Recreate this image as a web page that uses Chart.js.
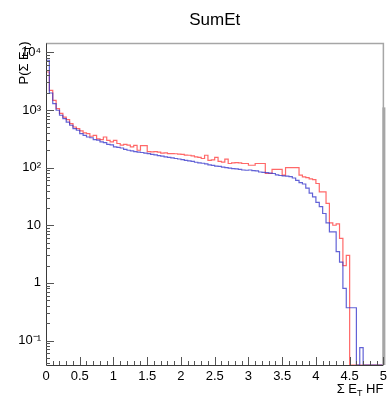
<!DOCTYPE html>
<html>
<head>
<meta charset="utf-8">
<script src="https://cdn.jsdelivr.net/npm/chart.js@4.4.1/dist/chart.umd.min.js"></script>
<style>
  body { margin: 0; background: #fff; }
</style>
</head>
<body>
<canvas id="sumEt" width="391" height="396"></canvas>
<script>
/* --------------- Binning (100 bins of 0.05 from 0 to 5) --------------------- */
const binWidth = 0.05;
const xMin = 0;
const xMax = 5;

/* --------------- Bin contents ----------------------------------------- */
const blueCounts = [
  7300, 1970, 1290, 990, 810, 707, 616, 543, 476, 445,
  390, 364, 340, 330, 307, 300, 279, 272, 254, 248,
  229, 225, 219, 208, 200, 195, 190, 186, 183, 178,
  175, 170, 166, 162, 158, 153, 151, 148, 144, 141,
  138, 134, 131, 128, 124, 121, 119, 116, 112, 109,
  106, 105, 102, 100, 98, 96, 95, 93, 91, 90,
  91, 89, 88, 84, 83, 82, 80, 79, 75, 73,
  72, 71, 70, 66, 60, 55, 52, 44, 36, 31,
  25, 21, 16, 11, 7.7, 7.7, 3.5, 2.3, 0.8, 0.37,
  0.37, 0.37, 0, 0.075, 0, 0, 0, 0, 0, 0,
];

const redCounts = [
  4560, 2190, 1470, 1060, 870, 750, 680, 580, 507, 476,
  433, 400, 390, 350, 364, 316, 307, 340, 298, 279,
  298, 262, 245, 254, 245, 229, 244, 200, 240, 240,
  190, 187, 190, 185, 178, 180, 175, 175, 174, 172,
  170, 165, 164, 160, 154, 150, 144, 164, 134, 136,
  150, 128, 125, 140, 118, 121, 122, 121, 118, 118,
  110, 110, 118, 118, 118, 79, 79, 93, 93, 93,
  74, 100, 100, 100, 100, 74, 69, 67, 64, 62,
  53, 38, 38, 24, 11, 10, 10.6, 5.9, 2.0, 3.0,
  0, 0, 0, 0, 0, 0, 0, 0, 0, 0,
];

/* --------------- Axis range and tick labels --------------------- */
const yMin = 0.0376;
const yMax = 14300;
const yTickLabels = { "-1": "10⁻¹", "0": "1", "1": "10", "2": "10²", "3": "10³", "4": "10⁴" };

const FONT = "'Liberation Sans', Arial, Helvetica, sans-serif";

// histogram -> step points at the left edge of every bin, plus the closing edge
function toSteps(counts) {
  const pts = counts.map((c, i) => ({ x: +(i * binWidth).toFixed(2), y: c > 0 ? c : yMin }));
  const last = counts[counts.length - 1];
  pts.push({ x: xMax, y: last > 0 ? last : yMin });
  return pts;
}

/* --------------- ROOT style frame, inner ticks and axis titles --------------------- */
const rootFrame = {
  id: "rootFrame",
  afterDraw(chart) {
    const { ctx, chartArea: a } = chart;
    const xs = chart.scales.x;
    const ys = chart.scales.y;
    ctx.save();

    // grey top / right border
    ctx.strokeStyle = "#a6a6a6";
    ctx.lineWidth = 1.5;
    ctx.beginPath();
    ctx.moveTo(a.left, a.top);
    ctx.lineTo(a.right, a.top);
    ctx.lineTo(a.right, a.bottom);
    ctx.stroke();
    ctx.fillStyle = "#a6a6a6";
    ctx.fillRect(a.right - 1, a.top + 64, 3, a.bottom - a.top - 64);

    // axis lines
    ctx.strokeStyle = "#3a3a3a";
    ctx.lineWidth = 1;
    ctx.beginPath();
    ctx.moveTo(a.left + 0.5, a.top);
    ctx.lineTo(a.left + 0.5, a.bottom + 0.5);
    ctx.lineTo(a.right, a.bottom + 0.5);
    ctx.stroke();

    // x ticks, pointing up into the frame
    ctx.strokeStyle = "#555";
    ctx.beginPath();
    for (let i = 1; i <= 50; i++) {
      const px = Math.round(xs.getPixelForValue(i / 10)) + 0.5;
      const len = i % 5 === 0 ? 8 : 4;
      ctx.moveTo(px, a.bottom);
      ctx.lineTo(px, a.bottom - len);
    }
    // y ticks, log minor at 2..9
    for (let e = -2; e <= 4; e++) {
      for (let k = 1; k <= 9; k++) {
        const v = k * Math.pow(10, e);
        if (v < yMin || v > yMax) continue;
        const py = Math.round(ys.getPixelForValue(v)) + 0.5;
        const len = k === 1 ? 8 : 4;
        ctx.moveTo(a.left, py);
        ctx.lineTo(a.left + len, py);
      }
    }
    ctx.stroke();

    // axis titles with subscript T
    ctx.fillStyle = "#000";
    const big = "13px " + FONT;
    const small = "9px " + FONT;

    // x title, right aligned under the axis
    ctx.textBaseline = "alphabetic";
    ctx.font = big;
    const xa = "Σ E", xc = " HF";
    const wa = ctx.measureText(xa).width;
    const wc = ctx.measureText(xc).width;
    ctx.font = small;
    const wb = ctx.measureText("T").width;
    let tx = a.right - (wa + wb + wc);
    const ty = 393;
    ctx.font = big;
    ctx.fillText(xa, tx, ty);
    ctx.font = small;
    ctx.fillText("T", tx + wa, ty + 3);
    ctx.font = big;
    ctx.fillText(xc, tx + wa + wb, ty);

    // y title, rotated, ending at the top of the frame
    ctx.translate(28, a.top - 2);
    ctx.rotate(-Math.PI / 2);
    ctx.font = big;
    const ya = "P(Σ E", yc = ")";
    const ywa = ctx.measureText(ya).width;
    const ywc = ctx.measureText(yc).width;
    ctx.font = small;
    const ywb = ctx.measureText("T").width;
    const sx = -(ywa + ywb + ywc);
    ctx.font = big;
    ctx.fillText(ya, sx, 0);
    ctx.font = small;
    ctx.fillText("T", sx + ywa, 3);
    ctx.font = big;
    ctx.fillText(yc, sx + ywa + ywb, 0);

    ctx.restore();
  },
};

/* --------------- Chart --------------------- */
Chart.defaults.font.family = FONT;
Chart.defaults.color = "#000";

const sumEtChart = new Chart(document.getElementById("sumEt"), {
  type: "line",
  plugins: [rootFrame],
  data: {
    datasets: [
      {
        label: "blue",
        data: toSteps(blueCounts),
        borderColor: "rgba(45, 45, 200, 0.75)",
        borderWidth: 1.2,
        stepped: "before",
        pointRadius: 0,
        fill: false,
      },
      {
        label: "red",
        data: toSteps(redCounts),
        borderColor: "rgba(255, 40, 40, 0.7)",
        borderWidth: 1.2,
        stepped: "before",
        pointRadius: 0,
        fill: false,
      },
    ],
  },
  options: {
    responsive: false,
    animation: false,
    layout: { padding: { left: 0, right: 3, top: 0, bottom: 0 } },
    plugins: {
      legend: { display: false },
      tooltip: { enabled: false },
      title: {
        display: true,
        text: "SumEt",
        fullSize: false,
        color: "#000",
        font: { size: 17, weight: "normal" },
        padding: { top: 10, bottom: 13 },
      },
    },
    scales: {
      x: {
        type: "linear",
        min: xMin,
        max: xMax,
        grid: { display: false, drawTicks: false },
        border: { display: false },
        ticks: {
          stepSize: 0.5,
          autoSkip: false,
          maxRotation: 0,
          padding: 4,
          font: { size: 13 },
          callback: (v) => String(+v.toFixed(2)),
        },
        afterFit: (scale) => { scale.height = 31; },
      },
      y: {
        type: "logarithmic",
        min: yMin,
        max: yMax,
        grid: { display: false, drawTicks: false },
        border: { display: false },
        ticks: {
          autoSkip: false,
          padding: 5,
          font: { size: 13 },
          callback: (v) => {
            const lg = Math.log10(v);
            const e = Math.round(lg);
            if (Math.abs(lg - e) > 1e-6) return "";
            return yTickLabels[String(e)] || "";
          },
        },
        afterFit: (scale) => { scale.width = 46; },
      },
    },
  },
});
</script>
</body>
</html>
